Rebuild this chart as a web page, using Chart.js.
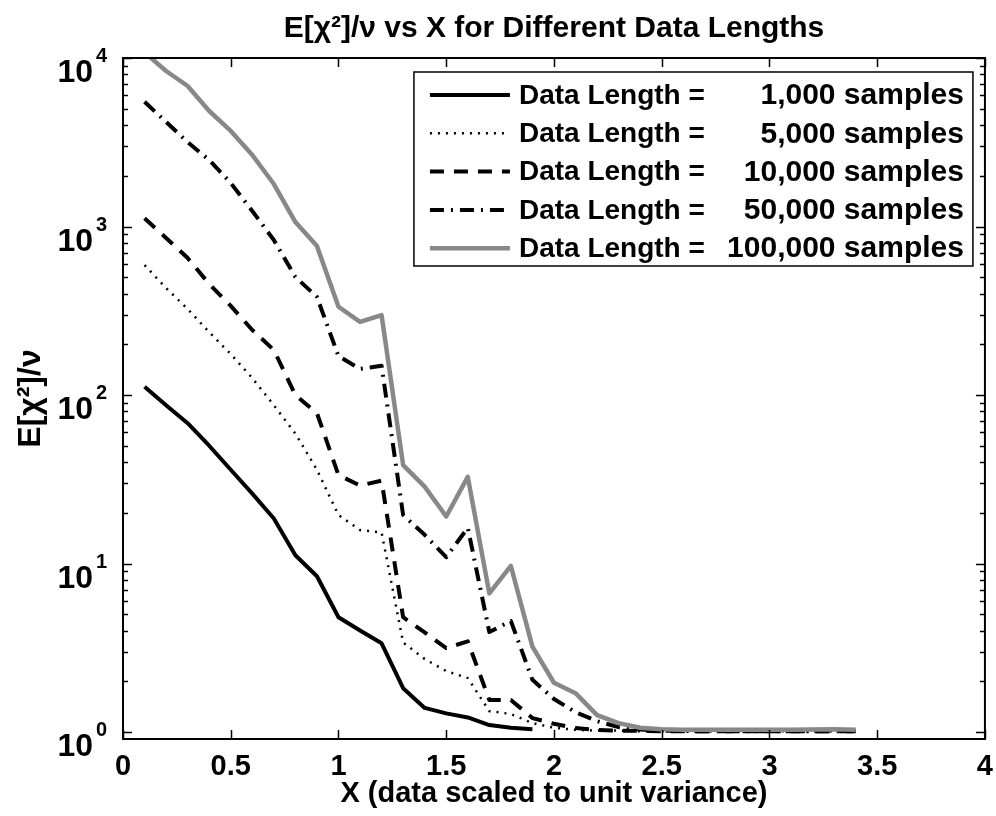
<!DOCTYPE html>
<html>
<head>
<meta charset="utf-8">
<script src="https://cdn.jsdelivr.net/npm/chart.js@4.4.1/dist/chart.umd.min.js"></script>
<style>
  html, body { margin: 0; padding: 0; background: #fff; }
  #wrap { width: 996px; height: 816px; }
</style>
</head>
<body>
<div id="wrap"><canvas id="chart" width="996" height="816"></canvas></div>
<script>
// --- Data ---
const xValues = [0.1, 0.2, 0.3, 0.4, 0.5, 0.6, 0.7, 0.8, 0.9, 1.0,
                 1.1, 1.2, 1.3, 1.4, 1.5, 1.6, 1.7, 1.8, 1.9, 2.0,
                 2.1, 2.2, 2.3, 2.4, 2.5, 2.6, 2.7, 2.8, 2.9, 3.0,
                 3.1, 3.2, 3.3, 3.4];

const len1k = [112, 87, 68, 50, 36, 26, 18.5, 11.2, 8.4, 4.8,
               4.0, 3.36, 1.82, 1.39, 1.29, 1.22, 1.10, 1.06, 1.04];

const len5k = [590, 431, 324, 236, 175, 126, 87, 59, 36, 19.4,
               15.8, 15.3, 3.4, 2.71, 2.3, 2.09, 1.33, 1.28, 1.13, 1.06,
               1.03, 1.02, 1.02, 1.01, 1.01, 1.01, 1.01, 1.01, 1.01, 1.01,
               1.01, 1.01, 1.01, 1.01];

const len10k = [1118, 855, 650, 456, 338, 243, 185, 100, 78, 33.5,
                29, 31, 4.8, 3.9, 3.15, 3.45, 1.55, 1.55, 1.21, 1.12,
                1.055, 1.03, 1.02, 1.015, 1.01, 1.01, 1.01, 1.01, 1.01, 1.01,
                1.01, 1.01, 1.01, 1.01];

const len50k = [5500, 4170, 3170, 2480, 1812, 1236, 831, 502, 382, 170,
                143, 149, 19.4, 14.8, 10.9, 16.3, 3.92, 4.56, 2.04, 1.57,
                1.31, 1.16, 1.07, 1.035, 1.02, 1.015, 1.01, 1.01, 1.01, 1.01,
                1.01, 1.01, 1.01, 1.01];

const len100k = [10800, 8370, 6820, 4846, 3690, 2657, 1787, 1063, 766, 334,
                 272, 298, 38.4, 28.6, 19, 32.7, 6.65, 9.67, 3.21, 1.96,
                 1.70, 1.26, 1.13, 1.06, 1.04, 1.03, 1.03, 1.03, 1.03, 1.03,
                 1.03, 1.035, 1.04, 1.03];

const seriesLabels = ['1,000', '5,000', '10,000', '50,000', '100,000'];
const xTicks = [0, 0.5, 1, 1.5, 2, 2.5, 3, 3.5, 4];
const yDecades = [1, 10, 100, 1000, 10000];
const yExponents = ['0', '1', '2', '3', '4'];

const FONT = "'Liberation Sans', Arial, Helvetica, sans-serif";

function toPoints(vals) {
    return vals.map((v, i) => ({ x: xValues[i], y: v }));
}

// --- Frame, inward ticks and y labels (MATLAB style box) ---
const framePlugin = {
    id: 'frame',
    afterDatasetsDraw(chart) {
        const { ctx, chartArea: a, scales: { x, y } } = chart;
        ctx.save();
        ctx.strokeStyle = '#000';
        ctx.lineWidth = 1.5;
        ctx.beginPath();
        xTicks.forEach(v => {
            const px = Math.round(x.getPixelForValue(v)) + 0.5;
            ctx.moveTo(px, a.bottom); ctx.lineTo(px, a.bottom - 9);
            ctx.moveTo(px, a.top); ctx.lineTo(px, a.top + 9);
        });
        yDecades.forEach(d => {
            for (let m = 1; m <= 9; m++) {
                const v = d * m;
                if (v < y.min || v > y.max) continue;
                const len = m === 1 ? 9 : 5;
                const py = Math.round(y.getPixelForValue(v)) + 0.5;
                ctx.moveTo(a.left, py); ctx.lineTo(a.left + len, py);
                ctx.moveTo(a.right, py); ctx.lineTo(a.right - len, py);
            }
        });
        ctx.stroke();
        ctx.lineWidth = 2;
        ctx.strokeRect(a.left, a.top, a.right - a.left, a.bottom - a.top);

        // y tick labels: 10 with superscript exponent
        ctx.fillStyle = '#000';
        ctx.textBaseline = 'alphabetic';
        yDecades.forEach((d, i) => {
            const py = y.getPixelForValue(d);
            ctx.font = 'bold 32px ' + FONT;
            ctx.textAlign = 'right';
            ctx.fillText('10', 93, py + 24);
            ctx.font = 'bold 20px ' + FONT;
            ctx.textAlign = 'left';
            ctx.fillText(yExponents[i], 96, py + 4);
        });
        ctx.restore();
    }
};

// --- Legend box inside the plot, top right ---
const legendPlugin = {
    id: 'boxLegend',
    afterDraw(chart) {
        const { ctx, chartArea: a } = chart;
        const right = a.right - 12;
        const left = right - 559;
        const top = a.top + 14;
        const rowH = 38.3;
        const height = 194;
        ctx.save();
        ctx.fillStyle = '#fff';
        ctx.fillRect(left, top, right - left, height);
        ctx.strokeStyle = '#000';
        ctx.lineWidth = 1.5;
        ctx.strokeRect(left, top, right - left, height);

        chart.data.datasets.forEach((ds, i) => {
            const cy = top + 23 + i * rowH;
            ctx.beginPath();
            ctx.strokeStyle = ds.borderColor;
            ctx.lineWidth = ds.borderWidth;
            ctx.setLineDash(ds.borderDash || []);
            ctx.moveTo(left + 16, cy);
            ctx.lineTo(left + 96, cy);
            ctx.stroke();
            ctx.setLineDash([]);

            ctx.fillStyle = '#000';
            ctx.textBaseline = 'middle';
            ctx.font = 'bold 28px ' + FONT;
            ctx.textAlign = 'left';
            ctx.fillText('Data Length =', left + 105, cy + 1);
            ctx.font = 'bold 30px ' + FONT;
            ctx.textAlign = 'right';
            ctx.fillText(seriesLabels[i] + ' samples', right - 9, cy + 1);
        });
        ctx.restore();
    }
};

Chart.defaults.font.family = FONT;
Chart.defaults.color = '#000';

const ctx = document.getElementById('chart').getContext('2d');
const chart = new Chart(ctx, {
    type: 'line',
    data: {
        datasets: [
            {
                label: 'Data Length = 1,000 samples',
                data: toPoints(len1k),
                borderColor: '#000000',
                borderWidth: 4,
                borderDash: [],
                order: 5
            },
            {
                label: 'Data Length = 5,000 samples',
                data: toPoints(len5k),
                borderColor: '#000000',
                borderWidth: 2.5,
                borderDash: [2, 6],
                order: 4
            },
            {
                label: 'Data Length = 10,000 samples',
                data: toPoints(len10k),
                borderColor: '#000000',
                borderWidth: 4,
                borderDash: [14, 10],
                order: 3
            },
            {
                label: 'Data Length = 50,000 samples',
                data: toPoints(len50k),
                borderColor: '#000000',
                borderWidth: 4,
                borderDash: [14, 7, 2, 7],
                order: 2
            },
            {
                label: 'Data Length = 100,000 samples',
                data: toPoints(len100k),
                borderColor: '#888888',
                borderWidth: 4.5,
                borderDash: [],
                order: 1
            }
        ]
    },
    options: {
        responsive: false,
        animation: false,
        devicePixelRatio: 1,
        layout: { padding: { left: 0, right: 0, top: 0, bottom: 0 } },
        elements: {
            point: { radius: 0, hoverRadius: 0 },
            line: { tension: 0, fill: false, borderJoinStyle: 'round', borderCapStyle: 'butt' }
        },
        scales: {
            x: {
                type: 'linear',
                min: 0,
                max: 4,
                grid: { display: false },
                border: { display: false },
                afterBuildTicks: (scale) => { scale.ticks = xTicks.map(v => ({ value: v })); },
                afterFit: (scale) => { scale.height = 77; },
                ticks: {
                    font: { size: 29, weight: 'bold' },
                    color: '#000',
                    padding: 3,
                    maxRotation: 0,
                    callback: (v) => String(v)
                },
                title: {
                    display: true,
                    text: 'X (data scaled to unit variance)',
                    font: { size: 29, weight: 'bold' },
                    color: '#000',
                    padding: { top: 0, bottom: 5 }
                }
            },
            y: {
                type: 'logarithmic',
                min: 0.909,
                max: 10000,
                grid: { display: false },
                border: { display: false },
                afterFit: (scale) => { scale.width = 123; },
                ticks: { display: false },
                title: {
                    display: true,
                    text: 'E[χ²]/ν',
                    font: { size: 32, weight: 'bold' },
                    color: '#000',
                    padding: { top: 12, bottom: 0 }
                }
            }
        },
        plugins: {
            legend: { display: false },
            tooltip: { enabled: false },
            title: {
                display: true,
                fullSize: false,
                text: 'E[χ²]/ν vs X for Different Data Lengths',
                font: { size: 30, weight: 'bold' },
                color: '#000',
                padding: { top: 11, bottom: 11 }
            }
        }
    },
    plugins: [framePlugin, legendPlugin]
});
</script>
</body>
</html>
